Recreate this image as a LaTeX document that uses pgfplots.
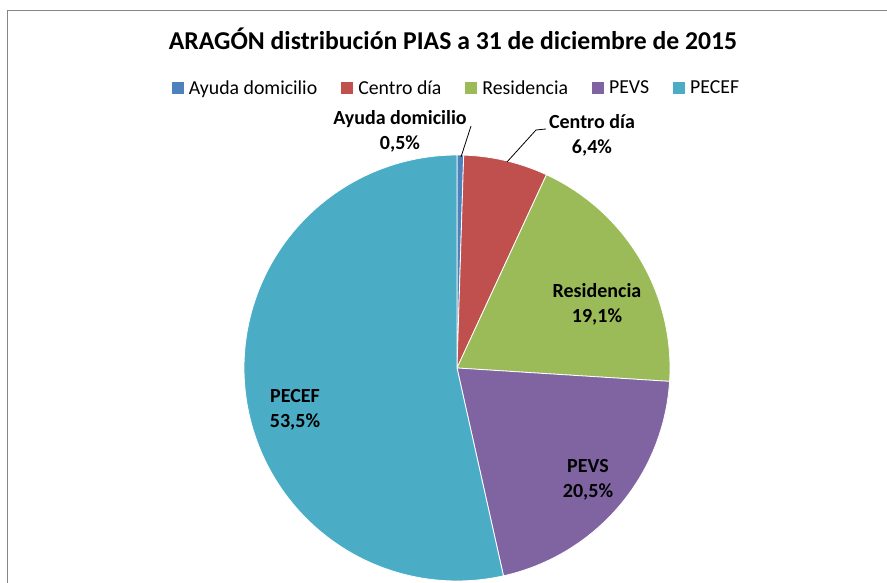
\documentclass[border=0pt]{standalone}
\usepackage{pgfplots}
\pgfplotsset{compat=1.18}
\usepackage{fontspec}
\setmainfont{Carlito}
\definecolor{cA}{HTML}{4F81BD}
\definecolor{cB}{HTML}{C0504D}
\definecolor{cC}{HTML}{9BBB59}
\definecolor{cD}{HTML}{8064A2}
\definecolor{cE}{HTML}{4BACC6}
\definecolor{frame}{HTML}{868686}
\begin{document}
\begin{tikzpicture}
% shares (%), clockwise from 12 o'clock
\def\va{0.5}\def\vb{6.4}\def\vc{19.1}\def\vd{20.5}\def\ve{53.5}
\pgfmathsetmacro\aA{90}
\pgfmathsetmacro\aB{90-3.6*\va}
\pgfmathsetmacro\aC{90-3.6*(\va+\vb)}
\pgfmathsetmacro\aD{90-3.6*(\va+\vb+\vc)}
\pgfmathsetmacro\aE{90-3.6*(\va+\vb+\vc+\vd)}
\pgfmathsetmacro\aF{90-3.6*(\va+\vb+\vc+\vd+\ve)}
\begin{axis}[
  name=ax,
  width=887pt, height=583pt, scale only axis,
  xmin=0, xmax=887, ymin=0, ymax=583,
  hide axis, clip=false,
  legend columns=5,
  legend image code/.code={\path[#1,draw=none] (0pt,-6pt) rectangle (12pt,6pt);},
  legend style={at={(axis cs:457,495)}, anchor=center, draw=none, fill=none,
    font=\fontsize{19.8}{24}\selectfont,
    /tikz/every odd column/.append style={column sep=2pt},
    /tikz/every even column/.append style={column sep=21pt},
    nodes={inner sep=3pt}},
]
\draw[frame, line width=1pt] (axis cs:7,0) -- (axis cs:7,572) -- (axis cs:887,572);
\addplot[fill=cA, draw=white, line width=0.8pt, domain=\aB:\aA, samples=20, variable=\t]
  ({457+213*cos(\t)}, {215+213*sin(\t)}) -- (axis cs:457,215) -- cycle;
\addlegendentry{Ayuda domicilio}
\addplot[fill=cB, draw=white, line width=0.8pt, domain=\aC:\aB, samples=40, variable=\t]
  ({457+213*cos(\t)}, {215+213*sin(\t)}) -- (axis cs:457,215) -- cycle;
\addlegendentry{Centro día}
\addplot[fill=cC, draw=white, line width=0.8pt, domain=\aD:\aC, samples=80, variable=\t]
  ({457+213*cos(\t)}, {215+213*sin(\t)}) -- (axis cs:457,215) -- cycle;
\addlegendentry{Residencia}
\addplot[fill=cD, draw=white, line width=0.8pt, domain=\aE:\aD, samples=80, variable=\t]
  ({457+213*cos(\t)}, {215+213*sin(\t)}) -- (axis cs:457,215) -- cycle;
\addlegendentry{PEVS}
\addplot[fill=cE, draw=white, line width=0.8pt, domain=\aF:\aE, samples=160, variable=\t]
  ({457+213*cos(\t)}, {215+213*sin(\t)}) -- (axis cs:457,215) -- cycle;
\addlegendentry{PECEF}
% title
\node[anchor=base, font=\fontsize{25.7}{30}\selectfont\bfseries] at (axis cs:453,533)
  {ARAGÓN distribución PIAS a 31 de diciembre de 2015};
% leader lines
\draw[black, line width=0.8pt] (axis cs:471,457) -- (axis cs:461,426);
\draw[black, line width=0.8pt] (axis cs:546,454) -- (axis cs:536,453) -- (axis cs:507,421);
% data labels
\begin{scope}[every node/.style={align=center, font=\fontsize{20}{25}\selectfont\bfseries}]
\node at (axis cs:400,451.5) {Ayuda domicilio\\0,5\%};
\node at (axis cs:592,447.5) {Centro día\\6,4\%};
\node at (axis cs:597,278.5) {Residencia\\19,1\%};
\node at (axis cs:295,173.5) {PECEF\\53,5\%};
\node at (axis cs:588,103.5) {PEVS\\20,5\%};
\end{scope}
\end{axis}
\pgfresetboundingbox
\path[use as bounding box] (ax.south west) rectangle (ax.north east);
\end{tikzpicture}
\end{document}
